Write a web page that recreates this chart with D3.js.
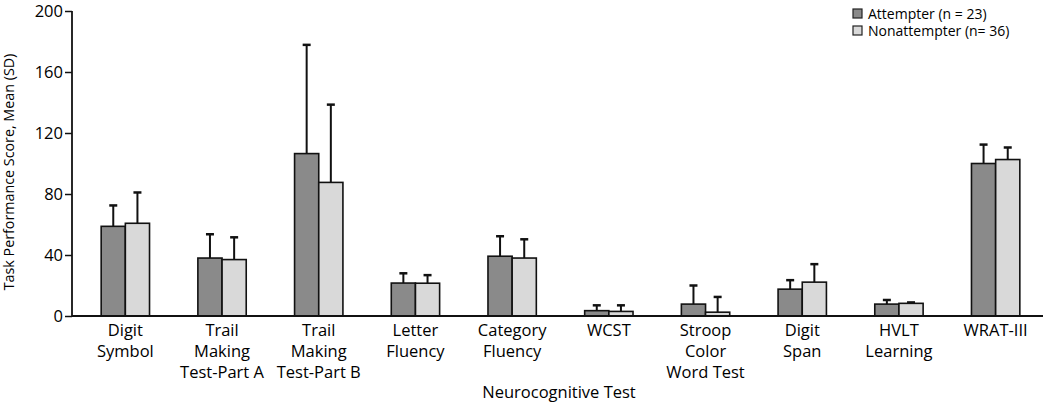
<!DOCTYPE html>
<html>
<head>
<meta charset="utf-8">
<script src="https://cdn.jsdelivr.net/npm/d3@7"></script>
<style>
  body { margin: 0; background: #fff; }
  svg text { font-family: "Open Sans", "Noto Sans", sans-serif; fill: #000; }
</style>
</head>
<body>
<svg id="chart" width="1050" height="403"></svg>
<script>
// tests on the x axis, each label split into lines
const tests = [
  ["Digit", "Symbol"],
  ["Trail", "Making", "Test-Part A"],
  ["Trail", "Making", "Test-Part B"],
  ["Letter", "Fluency"],
  ["Category", "Fluency"],
  ["WCST"],
  ["Stroop", "Color", "Word Test"],
  ["Digit", "Span"],
  ["HVLT", "Learning"],
  ["WRAT-III"]
];
const attempterMean = [58.8, 38, 106.5, 21.6, 39.2, 3.5, 7.8, 17.6, 7.8, 100];
const attempterSD   = [13.7, 15.6, 71.3, 6.4, 13.1, 3.5, 12.2, 5.9, 2.7, 12.4];
const nonMean = [60.8, 37, 87.6, 21.5, 38, 3, 2.5, 22.2, 8.3, 102.6];
const nonSD   = [20.2, 14.6, 51, 5.3, 12.3, 4, 10, 11.8, 0.6, 7.9];
const yTicks = [0, 40, 80, 120, 160, 200];
const seriesNames = ["Attempter (n = 23)", "Nonattempter (n= 36)"];
const seriesColors = ["#8a8a8a", "#d9d9d9"];

const svg = d3.select("#chart");
const mLeft = 72, mRight = 1043, mTop = 11, mBottom = 316;

const x = d3.scaleBand()
  .domain(d3.range(tests.length))
  .range([mLeft + 5, mRight + 1])
  .paddingInner(0.5)
  .paddingOuter(0.25);
const xs = d3.scaleBand().domain([0, 1]).range([0, x.bandwidth()]);
const y = d3.scaleLinear().domain([0, 200]).range([mBottom, mTop]);

// bars + error bars
const series = [
  { mean: attempterMean, sd: attempterSD },
  { mean: nonMean, sd: nonSD }
];
series.forEach(function(s, si){
  const g = svg.append("g");
  const rows = s.mean.map(function(m, i){ return { i: i, m: m, sd: s.sd[i] }; });
  // whisker
  g.selectAll("line.err")
    .data(rows).enter().append("line")
    .attr("x1", d => x(d.i) + xs(si) + xs.bandwidth() / 2)
    .attr("x2", d => x(d.i) + xs(si) + xs.bandwidth() / 2)
    .attr("y1", d => y(d.m))
    .attr("y2", d => y(d.m + d.sd))
    .attr("stroke", "#111").attr("stroke-width", 2);
  g.selectAll("line.cap")
    .data(rows).enter().append("line")
    .attr("x1", d => x(d.i) + xs(si) + xs.bandwidth() / 2 - 4)
    .attr("x2", d => x(d.i) + xs(si) + xs.bandwidth() / 2 + 4)
    .attr("y1", d => y(d.m + d.sd))
    .attr("y2", d => y(d.m + d.sd))
    .attr("stroke", "#111").attr("stroke-width", 2.5);
  g.selectAll("rect")
    .data(rows).enter().append("rect")
    .attr("x", d => x(d.i) + xs(si))
    .attr("y", d => y(d.m))
    .attr("width", xs.bandwidth())
    .attr("height", d => y(0) - y(d.m))
    .attr("fill", seriesColors[si])
    .attr("stroke", "#111").attr("stroke-width", 1.6);
});

// y axis
const yAxis = svg.append("g")
  .attr("transform", "translate(" + mLeft + ",0)")
  .call(d3.axisLeft(y).tickValues(yTicks).tickSize(7).tickPadding(2));
yAxis.select(".domain").attr("stroke", "#111").attr("stroke-width", 1.8).attr("d", "M0," + mTop + "V" + mBottom);
yAxis.selectAll(".tick line").attr("stroke", "#111").attr("stroke-width", 1.5);
yAxis.selectAll(".tick text").attr("font-size", 16.5).attr("fill", "#000")
  .attr("font-family", "'Open Sans', sans-serif");

// baseline
svg.append("line")
  .attr("x1", mLeft).attr("x2", mRight)
  .attr("y1", y(0)).attr("y2", y(0))
  .attr("stroke", "#111").attr("stroke-width", 2);

// x labels
const lab = svg.append("g").selectAll("text")
  .data(tests).enter().append("text")
  .attr("text-anchor", "middle")
  .attr("font-size", 16.5)
  .attr("x", (d, i) => x(i) + x.bandwidth() / 2)
  .attr("y", 336);
lab.selectAll("tspan")
  .data(d => d).enter().append("tspan")
  .attr("x", function(){ return d3.select(this.parentNode).attr("x"); })
  .attr("dy", (d, k) => k === 0 ? 0 : 21)
  .text(d => d);

// axis titles
svg.append("text")
  .attr("x", 559).attr("y", 398)
  .attr("text-anchor", "middle").attr("font-size", 16.5)
  .text("Neurocognitive Test");
svg.append("text")
  .attr("transform", "translate(14,172) rotate(-90)")
  .attr("text-anchor", "middle").attr("font-size", 14.3)
  .text("Task Performance Score, Mean (SD)");

// legend
const leg = svg.append("g").attr("transform", "translate(853,9)");
seriesNames.forEach(function(name, i){
  leg.append("rect")
    .attr("x", 0).attr("y", i * 17)
    .attr("width", 9).attr("height", 9)
    .attr("fill", seriesColors[i])
    .attr("stroke", "#222").attr("stroke-width", 1.2);
  leg.append("text")
    .attr("x", 15).attr("y", i * 17 + 10)
    .attr("font-size", 14)
    .text(name);
});
</script>
</body>
</html>
